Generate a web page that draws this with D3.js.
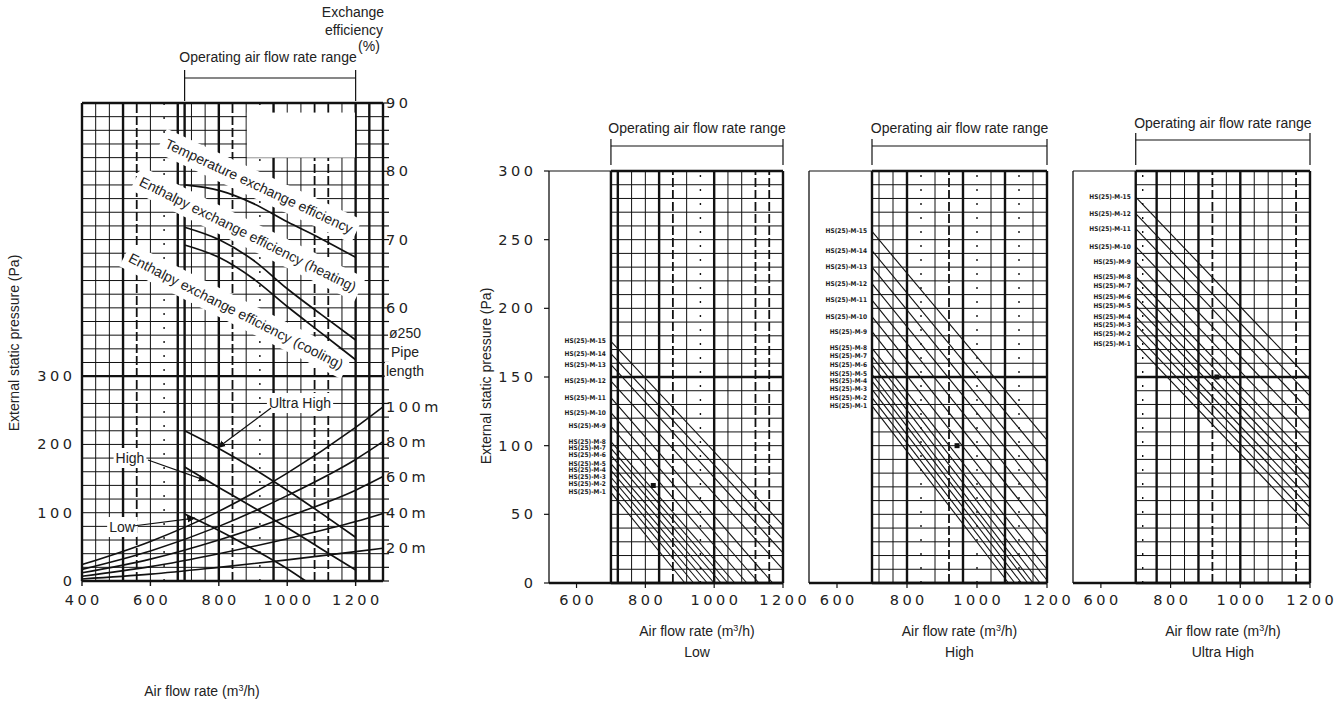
<!DOCTYPE html>
<html>
<head>
<meta charset="UTF-8" />
<style>
body{margin:0;background:#fff;}
svg{display:block;font-family:"Liberation Sans",Arial,sans-serif;}
.num{font-family:"DejaVu Sans",sans-serif;font-size:14.5px;letter-spacing:3.5px;fill:#222;}
.lbl{font-size:14px;fill:#222;}
.tag{font-family:"DejaVu Sans Condensed","DejaVu Sans",sans-serif;font-size:6.5px;font-weight:bold;fill:#222;}
</style>
</head>
<body>
<script src="https://cdn.jsdelivr.net/npm/d3@7"></script>
<script>
// ---- left chart data ----
var leftXTicks = [400,600,800,1000,1200];
var leftPressureTicks = [0,100,200,300];
var efficiencyTicks = [60,70,80,90];
var leftGridHeavy = [400,520,680,700,800,960,1200,1240,1280];
var leftGridDashed = [560,840,1080,1120];
var leftGridDotted = [640,920];

var effTemperature = [[700,78],[800,77.2],[900,75.3],[1000,72.6],[1100,70.1],[1200,67.4]];
var effHeating = [[700,71.8],[800,70],[900,67],[1000,62.8],[1100,59],[1200,55.3]];
var effCooling = [[700,69.2],[800,67.4],[900,64.3],[1000,60.2],[1100,56.3],[1200,52.4]];

var fanUltraHigh = [[700,220],[800,194],[900,165],[1000,133],[1100,99],[1200,64]];
var fanHigh = [[700,167],[800,137],[900,108],[1000,78],[1100,47],[1200,16]];
var fanLow = [[700,98],[800,74],[900,47],[1000,18],[1054,0]];

var pipeNames = ["100m","80m","60m","40m","20m"];
var pipe100 = [[400,24],[600,58],[800,102],[1000,158],[1200,225],[1280,255]];
var pipe80 = [[400,17],[600,44],[800,80],[1000,125],[1200,178],[1280,204]];
var pipe60 = [[400,12],[600,32],[800,60],[1000,94],[1200,133],[1280,153]];
var pipe40 = [[400,7],[600,21],[800,40],[1000,62],[1200,87],[1280,99]];
var pipe20 = [[400,3],[600,10],[800,20],[1000,31],[1200,43],[1280,48]];

// ---- right panels data ----
var panelXTicks = [600,800,1000,1200];
var panelYTicks = [0,50,100,150,200,250,300];
var panelGridX = [700,720,760,800,840,880,920,960,1000,1040,1080,1120,1160,1200];
var panelNames = ["Low","High","Ultra High"];

var lowLabels = ["15","14","13","12","11","10","9","8","7","6","5","4","3","2","1"];
var lowStart = [176,167,159,147,135,124,114,103,98,93,87,82,77,72,66];
var lowEnd = [[1200,42],[1200,32],[1200,22],[1200,10],[1170,0],[1130,0],[1095,0],[1060,0],[1040,0],[1020,0],[1000,0],[980,0],[960,0],[940,0],[915,0]];

var highLabels = ["15","14","13","12","11","10","9","8","7","6","5","4","3","2","1"];
var highStart = [256,242,230,218,206,194,183,171,165,159,152,147,141,135,129];
var highEnd = [[1200,104],[1200,88],[1200,74],[1200,61],[1200,48],[1200,35],[1200,22],[1200,10],[1200,2],[1180,0],[1160,0],[1145,0],[1127,0],[1108,0],[1090,0]];

var ultraLabels = ["15","12","11","10","9","8","7","6","5","4","3","2","1"];
var ultraStart = [281,269,258,245,234,223,216,208,202,194,188,181,174];
var ultraEnd = [[1200,148],[1200,136],[1200,125],[1200,112],[1200,101],[1200,90],[1200,83],[1200,75],[1200,69],[1200,61],[1200,55],[1200,48],[1200,41]];

var lowMarker = [823,71], highMarker = [943,100], ultraMarker = [933,150];

var width = 1341, height = 706;
var svg = d3.select("body").append("svg").attr("width",width).attr("height",height);
svg.append("rect").attr("width",width).attr("height",height).attr("fill","#fff");

var defs = svg.append("defs");
defs.append("marker").attr("id","arr").attr("viewBox","0 0 10 10").attr("refX",9).attr("refY",5)
    .attr("markerWidth",7).attr("markerHeight",7).attr("orient","auto")
    .append("path").attr("d","M0,1 L10,5 L0,9 z").attr("fill","#111");

function numText(g, x, y, t, anchor){
  var ls = 3.5;
  var dx = anchor == "end" ? ls : (anchor == "middle" ? ls/2 : 0);
  g.append("text").attr("class","num").attr("x",x+dx).attr("y",y)
   .attr("text-anchor",anchor).attr("dominant-baseline","central").text(t);
}
function flowTitle(g, x, y){
  var t = g.append("text").attr("class","lbl").attr("x",x).attr("y",y).attr("text-anchor","middle");
  t.append("tspan").text("Air flow rate (m");
  t.append("tspan").attr("font-size",9).attr("dy",-5).text("3");
  t.append("tspan").attr("dy",5).text("/h)");
}
function lineStyle(sel, v, heavy, dashed, dotted){
  if(heavy.indexOf(v) >= 0) sel.attr("stroke-width",2.4);
  else if(dashed.indexOf(v) >= 0) sel.attr("stroke-width",1.8).attr("stroke-dasharray","9,3");
  else if(dotted.indexOf(v) >= 0) sel.attr("stroke-width",1.4).attr("stroke-dasharray","2,12");
  else sel.attr("stroke-width",1);
}

// =============== LEFT CHART ===============
var lx = d3.scaleLinear().domain([400,1280]).range([82,383]);
var lp = d3.scaleLinear().domain([0,700]).range([581,103]);
var le = d3.scaleLinear().domain([50,90]).range([lp(300),lp(700)]);

var L = svg.append("g");
var gridL = L.append("g").attr("stroke","#111");
d3.range(0,701,20).forEach(function(v){
  var s = gridL.append("line").attr("x1",lx(400)).attr("x2",lx(1280)).attr("y1",lp(v)).attr("y2",lp(v));
  s.attr("stroke-width",[0,300,700].indexOf(v) >= 0 ? 2.4 : 1);
  gridL.append("line").attr("x1",lx(1280)).attr("x2",lx(1280)+6).attr("y1",lp(v)).attr("y2",lp(v)).attr("stroke-width",1.2);
});
d3.range(400,1281,40).concat([700]).forEach(function(v){
  var s = gridL.append("line").attr("x1",lx(v)).attr("x2",lx(v)).attr("y1",lp(0)).attr("y2",lp(700));
  lineStyle(s, v, leftGridHeavy, leftGridDashed, leftGridDotted);
});
leftXTicks.forEach(function(v){
  gridL.append("line").attr("x1",lx(v)).attr("x2",lx(v)).attr("y1",lp(0)).attr("y2",lp(0)+5).attr("stroke-width",1.4);
});

// erased areas of the scan
var bgL = L.append("g");
bgL.append("rect").attr("x",lx(882)).attr("y",lp(686)).attr("width",lx(1198)-lx(882)).attr("height",lp(620)-lp(686)).attr("fill","#fff");
var curvesL = L.append("g");
var textL = L.append("g");

function boxedText(cx, cy, angle, t, size, pad){
  var g = textL.append("g").attr("transform","translate("+cx+","+cy+") rotate("+angle+")");
  var tx = g.append("text").attr("class","lbl").attr("font-size",size).attr("text-anchor","middle")
            .attr("dominant-baseline","central").text(t);
  var b = tx.node().getBBox();
  bgL.append("rect").attr("transform","translate("+cx+","+cy+") rotate("+angle+")")
     .attr("x",b.x-pad).attr("y",b.y-pad).attr("width",b.width+2*pad).attr("height",b.height+2*pad).attr("fill","#fff");
}
boxedText(259,186,25,"Temperature exchange efficiency",13.5,5);
boxedText(248,234,26.5,"Enthalpy exchange efficiency (heating)",13.5,5);
boxedText(236,311,27,"Enthalpy exchange efficiency (cooling)",13.5,5);
boxedText(300,403,0,"Ultra High",14,2);
boxedText(130,458,0,"High",14,2);
boxedText(122,527,0,"Low",14,2);
boxedText(405,333,0,"ø250",14,1);
boxedText(405,352,0,"Pipe",14,1);
boxedText(405,371,0,"length",14,1);

var effLine = d3.line().x(function(d){return lx(d[0]);}).y(function(d){return le(d[1]);}).curve(d3.curveMonotoneX);
var pLine = d3.line().x(function(d){return lx(d[0]);}).y(function(d){return lp(d[1]);}).curve(d3.curveMonotoneX);
[effTemperature,effHeating,effCooling].forEach(function(s){
  curvesL.append("path").attr("d",effLine(s)).attr("fill","none").attr("stroke","#111").attr("stroke-width",1.7);
});
[fanUltraHigh,fanHigh,fanLow].forEach(function(s){
  curvesL.append("path").attr("d",pLine(s)).attr("fill","none").attr("stroke","#111").attr("stroke-width",1.7);
});
var pipes = [pipe100,pipe80,pipe60,pipe40,pipe20];
pipes.forEach(function(s,i){
  curvesL.append("path").attr("d",pLine(s)).attr("fill","none").attr("stroke","#111").attr("stroke-width",1.6);
  var last = s[s.length-1];
  numText(textL, 386, lp(last[1]), pipeNames[i], "start");
});

// arrows from labels
curvesL.append("line").attr("x1",271).attr("y1",408).attr("x2",lx(797)).attr("y2",lp(195))
  .attr("stroke","#111").attr("stroke-width",1.2).attr("marker-end","url(#arr)");
curvesL.append("line").attr("x1",148).attr("y1",460).attr("x2",lx(763)).attr("y2",lp(147))
  .attr("stroke","#111").attr("stroke-width",1.2).attr("marker-end","url(#arr)");
curvesL.append("line").attr("x1",133).attr("y1",526).attr("x2",lx(730)).attr("y2",lp(92))
  .attr("stroke","#111").attr("stroke-width",1.2).attr("marker-end","url(#arr)");

// axes labels
leftPressureTicks.forEach(function(v){ numText(textL, 72, lp(v), String(v), "end"); });
leftXTicks.forEach(function(v){ numText(textL, lx(v), 600, String(v), "middle"); });
efficiencyTicks.forEach(function(v){ numText(textL, 386, le(v), String(v), "start"); });

textL.append("text").attr("class","lbl").attr("x",353).attr("y",17).attr("text-anchor","middle").text("Exchange");
textL.append("text").attr("class","lbl").attr("x",354).attr("y",35).attr("text-anchor","middle").text("efficiency");
textL.append("text").attr("class","lbl").attr("x",369).attr("y",51).attr("text-anchor","middle").text("(%)");

textL.append("text").attr("class","lbl").attr("x",268).attr("y",62).attr("text-anchor","middle").text("Operating air flow rate range");
var brL = textL.append("g").attr("stroke","#111").attr("stroke-width",1.2);
brL.append("line").attr("x1",lx(700)).attr("x2",lx(700)).attr("y1",70).attr("y2",101);
brL.append("line").attr("x1",lx(1200)).attr("x2",lx(1200)).attr("y1",70).attr("y2",101);
brL.append("line").attr("x1",lx(700)).attr("x2",lx(1200)).attr("y1",78).attr("y2",78);

textL.append("text").attr("class","lbl").attr("transform","translate(19,343) rotate(-90)")
  .attr("text-anchor","middle").text("External static pressure (Pa)");
flowTitle(textL, 202, 696);

// =============== RIGHT PANELS ===============
var panels = [
  {x0:549, x1:783, labels:lowLabels, start:lowStart, end:lowEnd, marker:lowMarker,
   heavy:[700,720,840,1000,1200], dashed:[880,1120,1160], dotted:[960], titleY:133, brY:146, brTop:139, yAxis:true},
  {x0:809, x1:1047, labels:highLabels, start:highStart, end:highEnd, marker:highMarker,
   heavy:[700,800,960,1080,1200], dashed:[920], dotted:[840,1000,1120], titleY:133, brY:146, brTop:139, yAxis:false},
  {x0:1073, x1:1310, labels:ultraLabels, start:ultraStart, end:ultraEnd, marker:ultraMarker,
   heavy:[700,760,880,1000,1200], dashed:[920,1160], dotted:[720], titleY:128, brY:140, brTop:133, yAxis:false}
];

panels.forEach(function(cfg, i){
  var g = svg.append("g");
  var px = d3.scaleLinear().domain([520,1200]).range([cfg.x0,cfg.x1]);
  var py = d3.scaleLinear().domain([0,300]).range([583,171]);
  var gg = g.append("g").attr("stroke","#111");

  gg.append("line").attr("x1",px(520)).attr("x2",px(520)).attr("y1",py(0)).attr("y2",py(300)).attr("stroke-width",1.3);
  gg.append("line").attr("x1",px(520)).attr("x2",px(700)).attr("y1",py(300)).attr("y2",py(300)).attr("stroke-width",1.1);
  panelYTicks.forEach(function(v){
    if(cfg.yAxis) gg.append("line").attr("x1",px(520)-5).attr("x2",px(520)).attr("y1",py(v)).attr("y2",py(v)).attr("stroke-width",1.2);
  });
  d3.range(0,301,10).forEach(function(v){
    gg.append("line").attr("x1",px(700)).attr("x2",px(1200)).attr("y1",py(v)).attr("y2",py(v))
      .attr("stroke-width",[0,150,300].indexOf(v) >= 0 ? 2.4 : 1);
  });
  panelGridX.forEach(function(v){
    var s = gg.append("line").attr("x1",px(v)).attr("x2",px(v)).attr("y1",py(0)).attr("y2",py(300));
    lineStyle(s, v, cfg.heavy, cfg.dashed, cfg.dotted);
  });
  gg.append("line").attr("x1",px(520)).attr("x2",px(1200)).attr("y1",py(0)).attr("y2",py(0)).attr("stroke-width",2.6);
  panelXTicks.forEach(function(v){
    gg.append("line").attr("x1",px(v)).attr("x2",px(v)).attr("y1",py(0)).attr("y2",py(0)+5).attr("stroke-width",1.2);
  });

  // diagonal duct lines
  var dl = g.append("g").attr("stroke","#111").attr("stroke-width",1.1);
  cfg.start.forEach(function(p, k){
    var e = cfg.end[k];
    dl.append("line").attr("x1",px(700)).attr("y1",py(p)).attr("x2",px(e[0])).attr("y2",py(e[1]));
    g.append("text").attr("class","tag").attr("x",px(700)-5).attr("y",py(p))
      .attr("text-anchor","end").attr("dominant-baseline","central").text("HS(25)-M-" + cfg.labels[k]);
  });
  g.append("rect").attr("x",px(cfg.marker[0])-2.5).attr("y",py(cfg.marker[1])-2.5)
    .attr("width",5).attr("height",5).attr("fill","#111");

  // axes labels
  panelXTicks.forEach(function(v){ numText(g, px(v), 600, String(v), "middle"); });
  if(cfg.yAxis){
    panelYTicks.forEach(function(v){ numText(g, px(520)-16, py(v), String(v), "end"); });
    g.append("text").attr("class","lbl").attr("transform","translate(491,376) rotate(-90)")
      .attr("text-anchor","middle").text("External static pressure (Pa)");
  }

  // operating range bracket
  var cx = (px(700)+px(1200))/2;
  g.append("text").attr("class","lbl").attr("x",cx).attr("y",cfg.titleY).attr("text-anchor","middle").text("Operating air flow rate range");
  var br = g.append("g").attr("stroke","#111").attr("stroke-width",1.2);
  br.append("line").attr("x1",px(700)).attr("x2",px(700)).attr("y1",cfg.brTop).attr("y2",py(300)-6);
  br.append("line").attr("x1",px(1200)).attr("x2",px(1200)).attr("y1",cfg.brTop).attr("y2",py(300)-6);
  br.append("line").attr("x1",px(700)).attr("x2",px(1200)).attr("y1",cfg.brY).attr("y2",cfg.brY);

  flowTitle(g, cx, 636);
  g.append("text").attr("class","lbl").attr("x",cx).attr("y",657).attr("text-anchor","middle").text(panelNames[i]);
});
</script>
</body>
</html>
